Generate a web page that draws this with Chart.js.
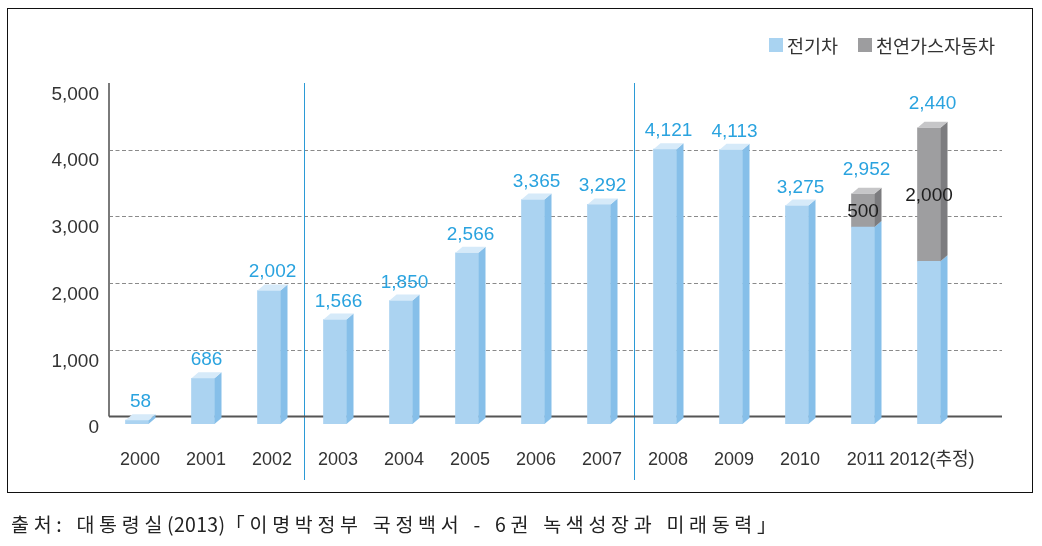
<!DOCTYPE html>
<html>
<head>
<meta charset="utf-8">
<script src="https://cdn.jsdelivr.net/npm/chart.js@4.4.0/dist/chart.umd.min.js"></script>
<style>
html,body{margin:0;padding:0;background:#fff;}
#wrap{position:relative;width:1042px;height:546px;overflow:hidden;background:#fff;}
#c{position:absolute;left:0;top:0;}
#box{position:absolute;left:7px;top:8px;width:1024px;height:483px;border:1.5px solid #111;pointer-events:none;}
.lg-box{position:absolute;top:38px;width:14px;height:14px;}
.lg-txt{position:absolute;top:32px;font-family:"Noto Sans CJK KR",sans-serif;font-size:18.5px;line-height:26px;color:#333;white-space:nowrap;}
#src{position:absolute;left:11px;top:510px;font-family:"Noto Sans CJK KR",sans-serif;font-size:19.5px;line-height:28px;color:#222;white-space:nowrap;letter-spacing:4.7px;word-spacing:1px;}
#src .tight{letter-spacing:0.3px;}
</style>
</head>
<body>
<div id="wrap">
  <canvas id="c" width="1042" height="546"></canvas>
  <div id="box"></div>
  <div class="lg-box" style="left:769px;background:#a9d3f1;"></div>
  <div class="lg-txt" id="lg0" style="left:787px;"></div>
  <div class="lg-box" style="left:858px;background:#9d9d9f;"></div>
  <div class="lg-txt" id="lg1" style="left:876px;"></div>
  <div id="src">출처: 대통령실<span class="tight">(2013)</span>「이명박정부 국정백서 - 6권 녹색성장과 미래동력」</div>
</div>
<script>
// ---- data ----
const categories = ['2000','2001','2002','2003','2004','2005','2006','2007','2008','2009','2010','2011','2012(추정)'];
const electricValues = [58,686,2002,1566,1850,2566,3365,3292,4121,4113,3275,2952,2440];
const gasValues = [null,null,null,null,null,null,null,null,null,null,null,500,2000];
const seriesNames = ['전기차','천연가스자동차'];
const yTicks = [0,1000,2000,3000,4000,5000];
const dividerAfter = ['2002','2007'];

document.getElementById('lg0').textContent = seriesNames[0];
document.getElementById('lg1').textContent = seriesNames[1];

// ---- styles ----
const FACE = {
  blue: {front:'#abd3f1', side:'#86bfe9', top:'#d6eaf9'},
  gray: {front:'#9e9ea0', side:'#7c7c7f', top:'#c6c6c8'}
};
const DX = 7, DY = 6, BACK = 7.5;
const LATIN = "'Liberation Sans', Arial, 'Noto Sans CJK KR', sans-serif";
const fmt = v => Number(v).toLocaleString('en-US');

const backdrop = {
  id: 'backdrop',
  beforeDatasetsDraw(chart) {
    const {ctx, chartArea: a, scales: {x, y}} = chart;
    const left = a.left + 5, right = a.right + 40;
    ctx.save();
    // dashed gridlines
    ctx.strokeStyle = '#8a8a8a';
    ctx.lineWidth = 1;
    ctx.setLineDash([4, 2.5]);
    yTicks.forEach(v => {
      if (v === 0 || v === yTicks[yTicks.length - 1]) return;
      const py = Math.round(y.getPixelForValue(v) - BACK) + 0.5;
      ctx.beginPath(); ctx.moveTo(left, py); ctx.lineTo(right, py); ctx.stroke();
    });
    ctx.setLineDash([]);
    // dividers
    ctx.strokeStyle = '#2b9ad6';
    ctx.lineWidth = 1;
    const top = y.getPixelForValue(yTicks[yTicks.length - 1]) - BACK;
    dividerAfter.forEach(lab => {
      const i = categories.indexOf(lab);
      const px = Math.round((x.getPixelForValue(i) + x.getPixelForValue(i + 1)) / 2 + DX / 2 - 2) + 0.5;
      ctx.beginPath(); ctx.moveTo(px, top); ctx.lineTo(px, a.bottom + 56); ctx.stroke();
    });
    // left axis
    ctx.strokeStyle = '#7a7a7a';
    ctx.lineWidth = 2;
    const base = y.getPixelForValue(0) - BACK;
    ctx.beginPath(); ctx.moveTo(left, top); ctx.lineTo(left, base); ctx.stroke();
    // base axis
    ctx.strokeStyle = '#555';
    ctx.lineWidth = 2;
    ctx.beginPath(); ctx.moveTo(left, base); ctx.lineTo(right, base); ctx.stroke();
    ctx.restore();
  }
};

const bars3d = {
  id: 'bars3d',
  afterDatasetsDraw(chart) {
    const ctx = chart.ctx;
    const m0 = chart.getDatasetMeta(0).data;
    const m1 = chart.getDatasetMeta(1).data;
    ctx.save();
    categories.forEach((c, i) => {
      const segs = [];
      if (electricValues[i] != null) segs.push({el: m0[i], f: FACE.blue});
      if (gasValues[i] != null) segs.push({el: m1[i], f: FACE.gray});
      segs.forEach((s, k) => {
        const el = s.el;
        const l = el.x - el.width / 2, r = el.x + el.width / 2;
        const t = Math.min(el.y, el.base), b = Math.max(el.y, el.base);
        ctx.fillStyle = s.f.side;
        ctx.beginPath();
        ctx.moveTo(r, b); ctx.lineTo(r + DX, b - DY); ctx.lineTo(r + DX, t - DY); ctx.lineTo(r, t);
        ctx.closePath(); ctx.fill();
        if (k === segs.length - 1) {
          ctx.fillStyle = s.f.top;
          ctx.beginPath();
          ctx.moveTo(l, t); ctx.lineTo(l + DX, t - DY); ctx.lineTo(r + DX, t - DY); ctx.lineTo(r, t);
          ctx.closePath(); ctx.fill();
        }
      });
      // labels
      const topEl = segs[segs.length - 1].el;
      const topY = Math.min(topEl.y, topEl.base);
      ctx.font = "19px " + LATIN;
      ctx.textAlign = 'center';
      ctx.textBaseline = 'alphabetic';
      ctx.fillStyle = '#2aa3df';
      const stacked = gasValues[i] != null;
      ctx.fillText(fmt(electricValues[i]), m0[i].x + DX / 2, topY - (stacked ? 19 : 13));
      if (stacked) {
        const el = m1[i];
        ctx.fillStyle = '#1e1e1e';
        ctx.textBaseline = 'middle';
        ctx.fillText(fmt(gasValues[i]), el.x, (el.y + el.base) / 2 + 1);
      }
    });
    ctx.restore();
  }
};

new Chart(document.getElementById('c'), {
  type: 'bar',
  data: {
    labels: categories,
    datasets: [
      {label: seriesNames[0], data: electricValues, backgroundColor: FACE.blue.front, borderWidth: 0, barThickness: 23},
      {label: seriesNames[1], data: gasValues, backgroundColor: FACE.gray.front, borderWidth: 0, barThickness: 23}
    ]
  },
  options: {
    responsive: false,
    animation: false,
    devicePixelRatio: 1,
    layout: {padding: {left: 0, right: 80, top: 90.5, bottom: 62}},
    plugins: {legend: {display: false}, tooltip: {enabled: false}},
    scales: {
      x: {
        stacked: true,
        offset: true,
        grid: {display: false, drawTicks: false},
        border: {display: false},
        ticks: {
          font: {size: 18, family: LATIN},
          color: '#333',
          padding: 25,
          labelOffset: 3,
          maxRotation: 0,
          autoSkip: false
        },
        afterFit: s => { s.height = 60; }
      },
      y: {
        stacked: true,
        min: yTicks[0],
        max: yTicks[yTicks.length - 1],
        grid: {display: false, drawTicks: false},
        border: {display: false},
        afterBuildTicks: s => { s.ticks = yTicks.map(v => ({value: v})); },
        ticks: {
          font: {size: 19, family: LATIN},
          color: '#333',
          padding: 5,
          labelOffset: 4,
          callback: v => fmt(v)
        },
        afterFit: s => { s.width = 104; }
      }
    }
  },
  plugins: [backdrop, bars3d]
});
</script>
</body>
</html>
